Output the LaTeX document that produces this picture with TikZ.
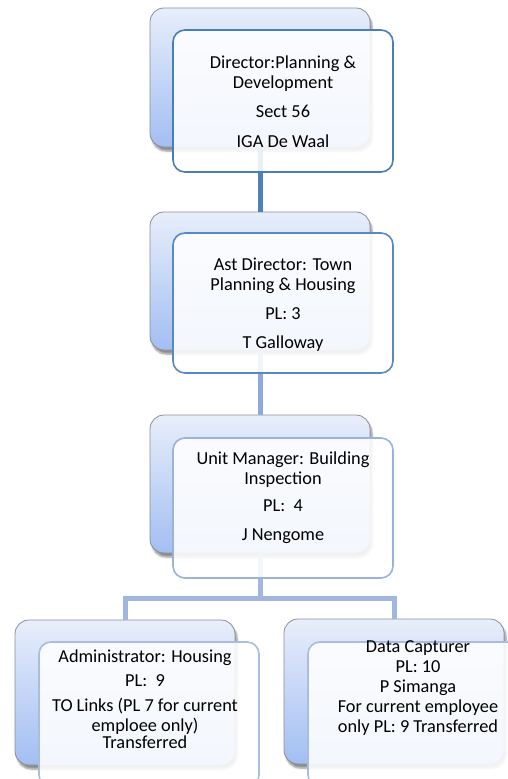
\documentclass[tikz,border=0pt]{standalone}
\usepackage{fontspec}
\setmainfont{Carlito}
\usetikzlibrary{shadows.blur}

\definecolor{backtop}{HTML}{E8EEFB}
\definecolor{backbot}{HTML}{A2BEF2}
\definecolor{backline}{HTML}{8A8F99}
\definecolor{lineA}{HTML}{4A7EBB}
\definecolor{lineB}{HTML}{5A88C4}
\definecolor{lineC}{HTML}{9BB3DB}
\definecolor{lineD}{HTML}{A8BDE0}
\definecolor{linkA}{HTML}{4F81BD}
\definecolor{linkB}{HTML}{8EA9DB}
\definecolor{linkC}{HTML}{A2B7DF}

\tikzset{
  backbox/.style={draw=backline, line width=0.8pt, rounded corners=14pt,
    top color=backtop, bottom color=backbot,
    minimum width=220pt, inner sep=0pt,
    blur shadow={shadow xshift=2pt, shadow yshift=-4pt, shadow blur steps=6, shadow opacity=45}},
  frontbox/.style={line width=1.6pt, rounded corners=12pt, fill=white, fill opacity=0.88,
    minimum width=220pt, inner sep=0pt},
  label/.style={align=center, font=\fontsize{18.3}{20}\selectfont, inner sep=0pt},
  link/.style={line width=5pt}
}

\begin{document}
\begin{tikzpicture}[x=1pt, y=-1pt]
\useasboundingbox (0,0) rectangle (508,779);
\clip (0,0) rectangle (508,779);

% rear cards
\node[backbox, minimum height=139pt] (b1) at (260,77.5) {};
\node[backbox, minimum height=138pt] (b2) at (260,281) {};
\node[backbox, minimum height=138pt] (b3) at (260,484) {};
\node[backbox, minimum height=145pt] (b4) at (125,692.5) {};
\node[backbox, minimum height=145pt] (b5) at (394,691.5) {};

% reporting lines
\coordinate (j) at (260,598);
\draw[link, linkA] (b1.south) -- (b2.north);
\draw[link, linkB] (b2.south) -- (b3.north);
\draw[link, linkC] (b3.south) -- (j) -| (b4.north);
\draw[link, linkC] (j) -| (b5.north);

% front cards
\node[frontbox, draw=lineA, minimum height=142pt] (f1) at (283,101) {};
\node[frontbox, draw=lineB, minimum height=140pt] (f2) at (283,303) {};
\node[frontbox, draw=lineC, minimum height=140pt] (f3) at (283,508) {};
\node[frontbox, draw=lineD, minimum height=145pt] (f4) at (149,714.5) {};
\node[frontbox, draw=lineD, minimum height=145pt] (f5) at (418,714.5) {};

% card texts
\node[label] (t1) at (283,101.5) {Director:Planning \&\\ Development\\[9pt] Sect 56\\[10pt] IGA De Waal};
\node[label] (t2) at (283,304.5) {Ast Director: Town\\ Planning \& Housing\\[9pt] PL: 3\\[9pt] T Galloway};
\node[label] (t3) at (283,497.5) {Unit Manager: Building\\ Inspection\\[7pt] PL:\ \ 4\\[9pt] J Nengome};
\node[label] (t4) at (145,699) {Administrator: Housing\\[4pt] PL:\ \ 9\\[5pt] TO Links (PL 7 for current\\ emploee only)\\[-3pt] Transferred};
\node[label] (t5) at (418,688) {Data Capturer\\ PL: 10\\ P Simanga\\ For current employee\\ only PL: 9 Transferred};
\end{tikzpicture}
\end{document}
